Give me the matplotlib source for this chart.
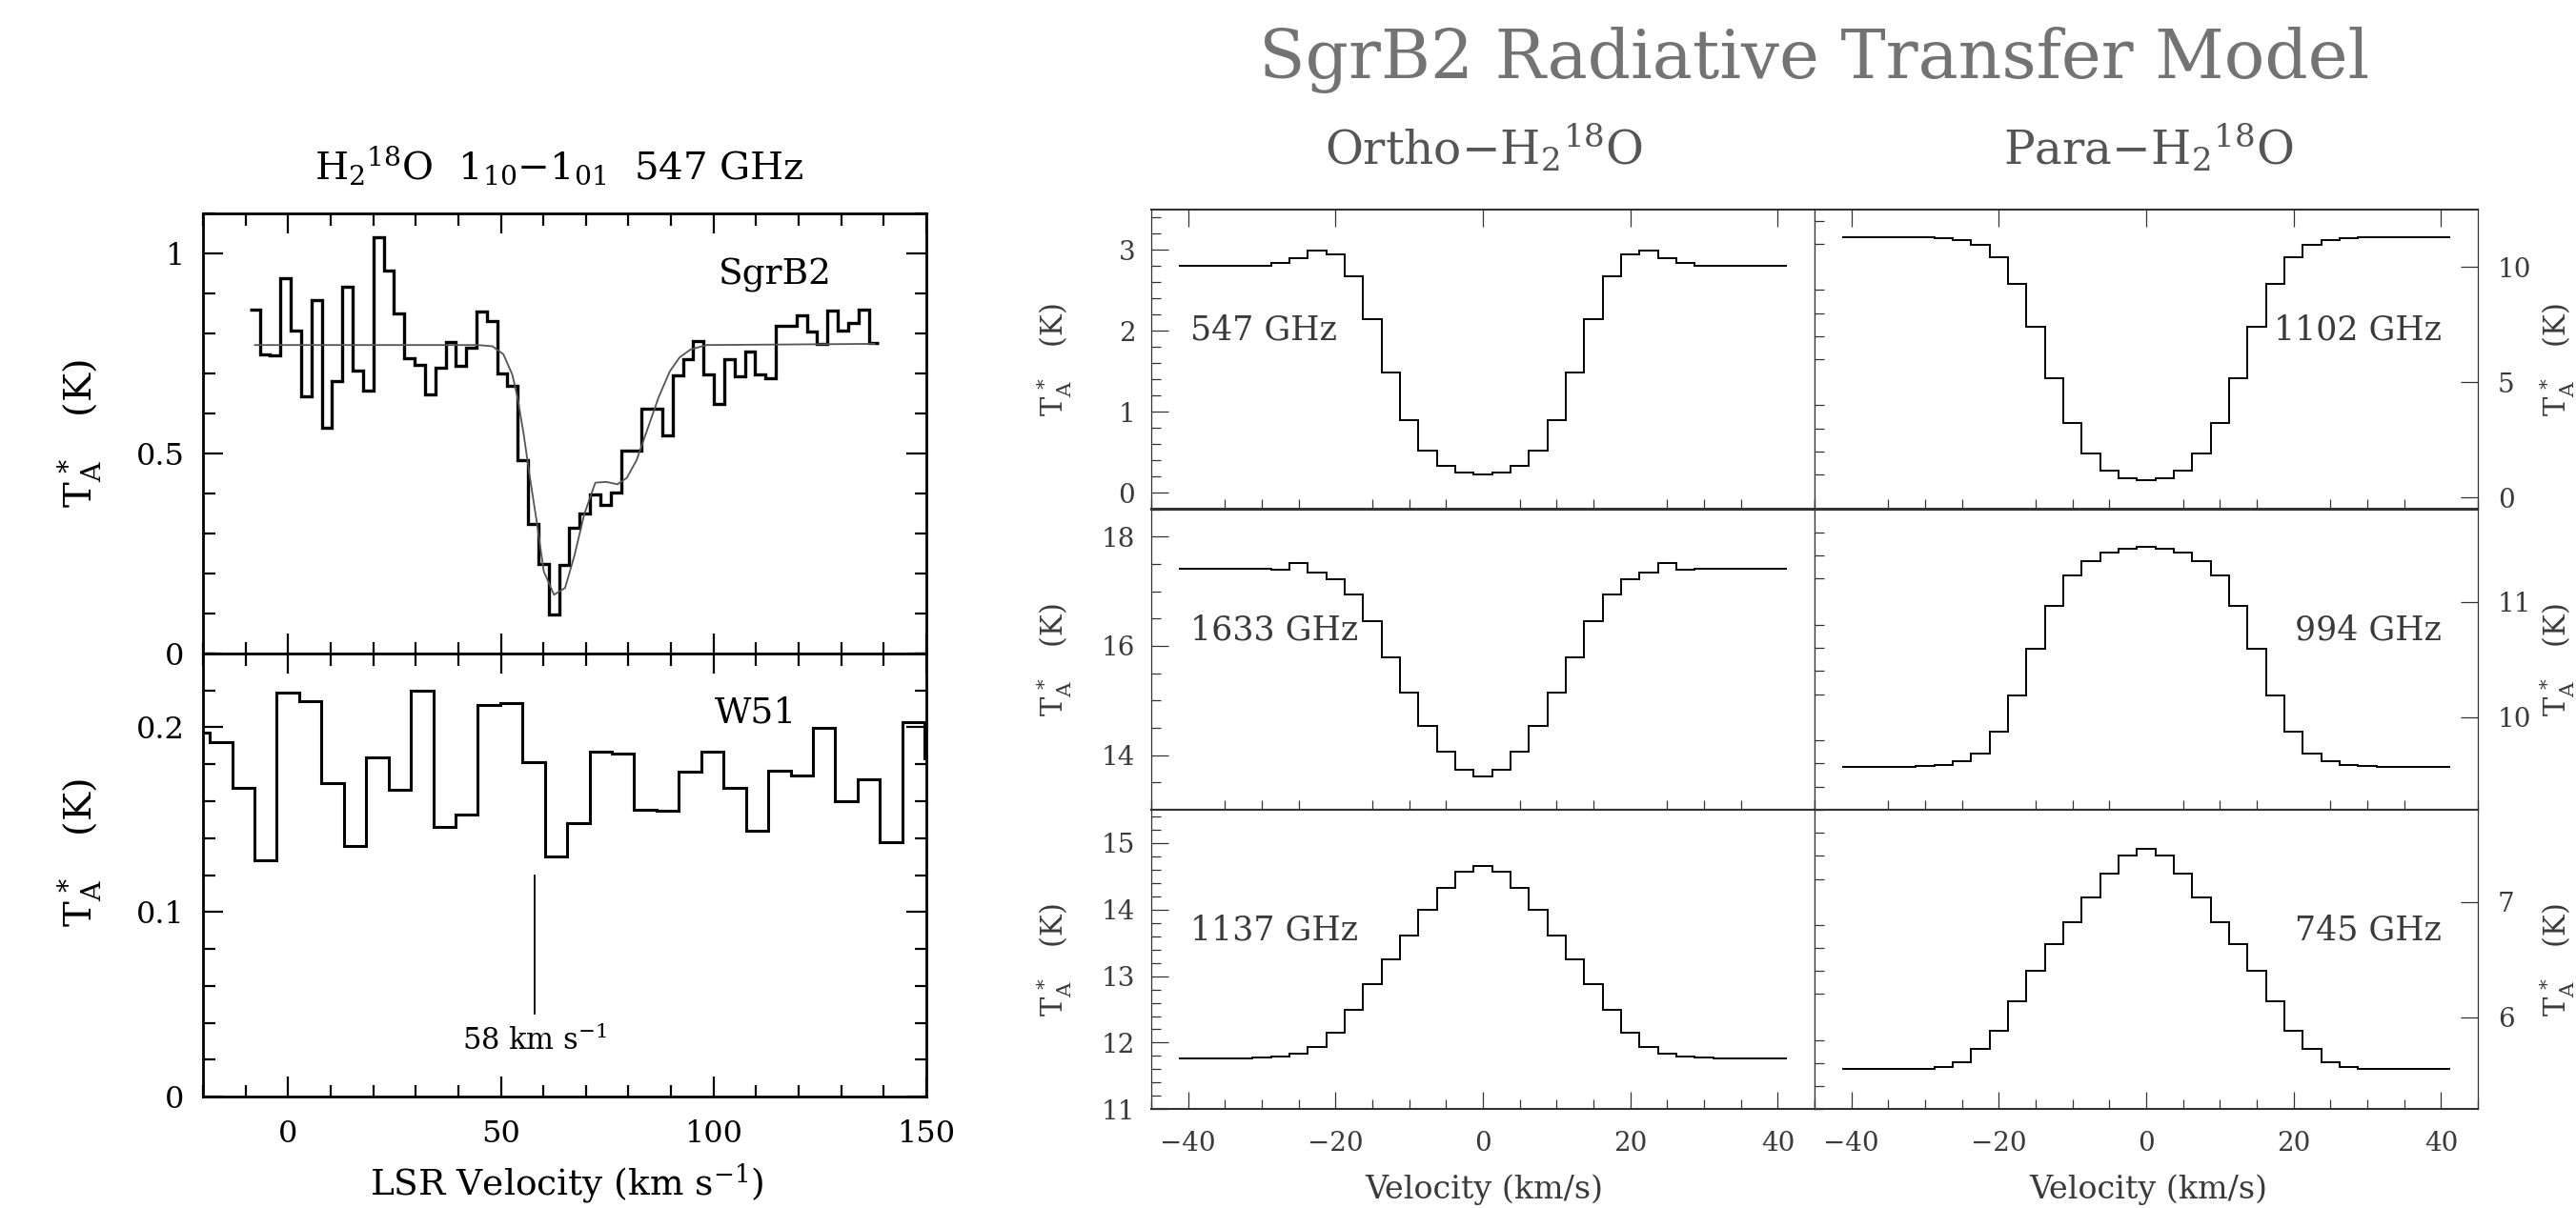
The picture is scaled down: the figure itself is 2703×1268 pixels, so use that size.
import numpy as np
import matplotlib
matplotlib.use('Agg')
import matplotlib.pyplot as plt
from matplotlib.ticker import MultipleLocator, FuncFormatter

plt.rcParams['font.family'] = ['DejaVu Serif']
plt.rcParams['mathtext.fontset'] = 'dejavuserif'
plt.rcParams['axes.unicode_minus'] = True

# ---------------- data ----------------
# SgrB2 observed H2-18O 547 GHz spectrum (channel start, width, values)
sgrb2_v_start = -9.09
sgrb2_dv = 2.426
sgrb2_T = [0.860, 0.747, 0.745, 0.937, 0.808, 0.644, 0.883, 0.565, 0.680, 0.917,
           0.707, 0.658, 1.040, 0.956, 0.851, 0.739, 0.721, 0.648, 0.714, 0.778,
           0.719, 0.765, 0.855, 0.831, 0.700, 0.670, 0.483, 0.325, 0.223, 0.098,
           0.221, 0.314, 0.349, 0.397, 0.371, 0.402, 0.506, 0.506, 0.611, 0.611,
           0.546, 0.695, 0.736, 0.781, 0.698, 0.625, 0.735, 0.693, 0.754, 0.697,
           0.689, 0.820, 0.820, 0.845, 0.805, 0.774, 0.856, 0.806, 0.826, 0.860,
           0.776]
# SgrB2 model fit curve
model_v = [-7.8, 44.6, 48.0, 50.6, 52.7, 53.9, 55.4, 56.9, 58.4, 60.1, 62.5, 65.1,
           67.3, 69.6, 72.2, 74.8, 77.4, 79.6, 81.9, 84.5, 87.1, 89.7, 92.0, 94.6,
           98.3, 137.8]
model_T = [0.771, 0.771, 0.768, 0.748, 0.697, 0.641, 0.546, 0.435, 0.332, 0.205,
           0.147, 0.164, 0.245, 0.348, 0.427, 0.429, 0.423, 0.439, 0.483, 0.562,
           0.641, 0.705, 0.740, 0.760, 0.771, 0.774]
# W51 spectrum
w51_v_start = -23.65
w51_dv = 5.25
w51_T = [0.197, 0.192, 0.167, 0.128, 0.219, 0.214, 0.170, 0.136, 0.184, 0.166,
         0.220, 0.146, 0.153, 0.212, 0.213, 0.181, 0.130, 0.148, 0.187, 0.186,
         0.1555, 0.155, 0.176, 0.187, 0.167, 0.144, 0.1765, 0.174, 0.200, 0.160,
         0.172, 0.138, 0.203, 0.183]
marker_v = 58.0

# Radiative transfer model spectra (2.5 km/s channels from -41.25 km/s)
rt_v_start = -41.25
rt_dv = 2.5
ortho_547 = [2.800, 2.800, 2.800, 2.806, 2.806, 2.833, 2.892, 2.986, 2.947, 2.669,
             2.143, 1.488, 0.904, 0.527, 0.339, 0.249, 0.225, 0.249, 0.339, 0.527,
             0.904, 1.488, 2.143, 2.669, 2.947, 2.986, 2.892, 2.833, 2.806, 2.806,
             2.800, 2.800, 2.800]
ortho_1633 = [17.407, 17.407, 17.407, 17.407, 17.407, 17.400, 17.517, 17.342, 17.220,
              16.940, 16.447, 15.790, 15.140, 14.540, 14.060, 13.724, 13.607, 13.724,
              14.060, 14.540, 15.140, 15.790, 16.447, 16.940, 17.220, 17.342, 17.517,
              17.400, 17.407, 17.407, 17.407, 17.407, 17.407]
ortho_1137 = [11.767, 11.767, 11.767, 11.767, 11.780, 11.795, 11.829, 11.940, 12.144,
              12.488, 12.880, 13.252, 13.615, 13.992, 14.331, 14.566, 14.661, 14.566,
              14.331, 13.992, 13.615, 13.252, 12.880, 12.488, 12.144, 11.940, 11.829,
              11.795, 11.780, 11.767, 11.767, 11.767, 11.767]
para_1102 = [11.29, 11.29, 11.29, 11.27, 11.27, 11.25, 11.18, 10.96, 10.41, 9.25,
             7.40, 5.19, 3.23, 1.91, 1.19, 0.85, 0.75, 0.85, 1.19, 1.91,
             3.23, 5.19, 7.40, 9.25, 10.41, 10.96, 11.18, 11.25, 11.27, 11.27,
             11.29, 11.29, 11.29]
para_994 = [9.573, 9.573, 9.573, 9.573, 9.578, 9.590, 9.623, 9.683, 9.876, 10.188,
            10.593, 10.967, 11.226, 11.350, 11.425, 11.460, 11.471, 11.460, 11.425,
            11.350, 11.226, 10.967, 10.593, 10.188, 9.876, 9.683, 9.623, 9.590,
            9.578, 9.573, 9.573, 9.573, 9.573]
para_745 = [5.549, 5.549, 5.549, 5.549, 5.554, 5.570, 5.607, 5.727, 5.879, 6.135,
            6.405, 6.631, 6.821, 7.039, 7.248, 7.402, 7.463, 7.402, 7.248, 7.039,
            6.821, 6.631, 6.405, 6.135, 5.879, 5.727, 5.607, 5.570, 5.554, 5.549,
            5.549, 5.549, 5.549]

left_col_labels = ['547 GHz', '1633 GHz', '1137 GHz']
right_col_labels = ['1102 GHz', '994 GHz', '745 GHz']

# ---------------- figure ----------------
W, H = 2703, 1268
fig = plt.figure(figsize=(W / 100, H / 100), dpi=100)


def box(x0, y0, x1, y1):
    return [x0 / W, 1 - y1 / H, (x1 - x0) / W, (y1 - y0) / H]


def ftext(x, y, s, **kw):
    return fig.text(x / W, 1 - y / H, s, **kw)


gfmt = FuncFormatter(lambda v, p: f'{v:g}')

# ---------- left observed panels ----------
axU = fig.add_axes(box(213, 224, 972, 686))
axL = fig.add_axes(box(213, 686, 972, 1151))
for ax in (axU, axL):
    ax.set_xlim(-20, 150)
    ax.xaxis.set_major_locator(MultipleLocator(50))
    ax.xaxis.set_minor_locator(MultipleLocator(10))
    ax.yaxis.set_major_formatter(gfmt)
    ax.tick_params(which='both', direction='in', top=True, right=True,
                   width=1.6, labelsize=23, pad=14)
    ax.tick_params(which='major', length=15)
    ax.tick_params(which='minor', length=9)
    ax.tick_params(axis='x', pad=17)
    for s in ax.spines.values():
        s.set_linewidth(2.0)

axU.set_ylim(0, 1.1)
axU.yaxis.set_major_locator(MultipleLocator(0.5))
axU.yaxis.set_minor_locator(MultipleLocator(0.1))
axU.tick_params(labelbottom=False)

axL.set_ylim(0, 0.24)
axL.yaxis.set_major_locator(MultipleLocator(0.1))
axL.yaxis.set_minor_locator(MultipleLocator(0.02))

sg_edges = sgrb2_v_start + sgrb2_dv * np.arange(len(sgrb2_T) + 1)
axU.stairs(sgrb2_T, sg_edges, baseline=None, color='black', lw=2.4)
axU.plot(model_v, model_T, color='#555555', lw=1.3)
axU.text(114.5, 0.945, 'SgrB2', ha='center', va='center', fontsize=27)

w_edges = w51_v_start + w51_dv * np.arange(len(w51_T) + 1)
axL.stairs(w51_T, w_edges, baseline=None, color='black', lw=2.2)
axL.text(110, 0.2078, 'W51', ha='center', va='center', fontsize=27)
axL.plot([marker_v, marker_v], [0.045, 0.12], color='black', lw=1.3)
axL.text(marker_v, 0.0253, r'58 km s$^{-1}$', ha='center', va='baseline', fontsize=22)

ftext(587, 188, r'H$_2$$^{18}$O  1$_{10}$$-$1$_{01}$  547 GHz',
      ha='center', va='baseline', fontsize=29)
ftext(84, 455, r'T$_{\rm A}^{\,*}$   (K)', rotation=90, ha='center', va='center', fontsize=29)
ftext(84, 895, r'T$_{\rm A}^{\,*}$   (K)', rotation=90, ha='center', va='center', fontsize=29)
ftext(595, 1254, r'LSR Velocity (km s$^{-1}$)', ha='center', va='baseline', fontsize=27)

# ---------- right model panels ----------
TXT = '#3a3a3a'
rows = [(219.6, 534.5), (534.5, 850.0), (850.0, 1164.3)]
cols = [(1208, 1904), (1904, 2600)]
left_data = [ortho_547, ortho_1633, ortho_1137]
right_data = [para_1102, para_994, para_745]
left_ylim = [(-0.2, 3.5), (13.0, 18.5), (11.0, 15.5)]
right_ylim = [(-0.5, 12.5), (9.2, 11.8), (5.2, 7.8)]
left_loc = [(1, 0.2), (2, 0.5), (1, 0.2)]
right_loc = [(5, 1), (1, 0.2), (1, 0.2)]
rt_edges = rt_v_start + rt_dv * np.arange(len(ortho_547) + 1)

for r, (y0, y1) in enumerate(rows):
    for c, (x0, x1) in enumerate(cols):
        ax = fig.add_axes(box(x0, y0, x1, y1))
        data = left_data[r] if c == 0 else right_data[r]
        ylim = left_ylim[r] if c == 0 else right_ylim[r]
        maj, mnr = left_loc[r] if c == 0 else right_loc[r]
        ax.stairs(data, rt_edges, baseline=None, color='black', lw=1.4)
        ax.set_xlim(-45, 45)
        ax.set_ylim(*ylim)
        ax.xaxis.set_major_locator(MultipleLocator(20))
        ax.xaxis.set_minor_locator(MultipleLocator(5))
        ax.yaxis.set_major_locator(MultipleLocator(maj))
        ax.yaxis.set_minor_locator(MultipleLocator(mnr))
        ax.yaxis.set_major_formatter(gfmt)
        ax.tick_params(which='both', direction='in', width=0.9, color='#333333',
                       labelsize=20, labelcolor=TXT)
        ax.tick_params(which='major', length=13)
        ax.tick_params(which='minor', length=7.5)
        ax.tick_params(axis='x', top=(r == 0), bottom=(r == 2), labelbottom=(r == 2),
                       labeltop=False, pad=16)
        if c == 0:
            ax.tick_params(axis='y', left=True, right=False, labelleft=True,
                           labelright=False, pad=12)
        else:
            ax.tick_params(axis='y', left=False, right=True, labelleft=False,
                           labelright=True, pad=15)
        for side in ('top', 'bottom'):
            ax.spines[side].set_linewidth(1.5)
            ax.spines[side].set_color('#333333')
        for side in ('left', 'right'):
            ax.spines[side].set_linewidth(0.9)
            ax.spines[side].set_color('#333333')
        if c == 0:
            ax.text(0.059, 0.565, left_col_labels[r], transform=ax.transAxes,
                    ha='left', va='baseline', fontsize=25, color=TXT)
        else:
            ax.text(0.945, 0.565, right_col_labels[r], transform=ax.transAxes,
                    ha='right', va='baseline', fontsize=25, color=TXT)
        ycen = (y0 + y1) / 2
        xl = 1106 if c == 0 else 2683
        ftext(xl, ycen, r'T$_{\rm A}^{\,*}$   (K)', rotation=90, ha='center', va='center',
              fontsize=22, color=TXT)

ftext(1904, 82, 'SgrB2 Radiative Transfer Model', ha='center', va='baseline',
      fontsize=51, color='#737373')
ftext(1557, 173, r'Ortho$-$H$_2$$^{18}$O', ha='center', va='baseline', fontsize=35,
      color='#555555')
ftext(2254, 173, r'Para$-$H$_2$$^{18}$O', ha='center', va='baseline', fontsize=35,
      color='#555555')
for xc in (1557, 2254):
    ftext(xc, 1265, 'Velocity (km/s)', ha='center', va='bottom', fontsize=24, color=TXT)

fig.savefig('out.png', dpi=100)
